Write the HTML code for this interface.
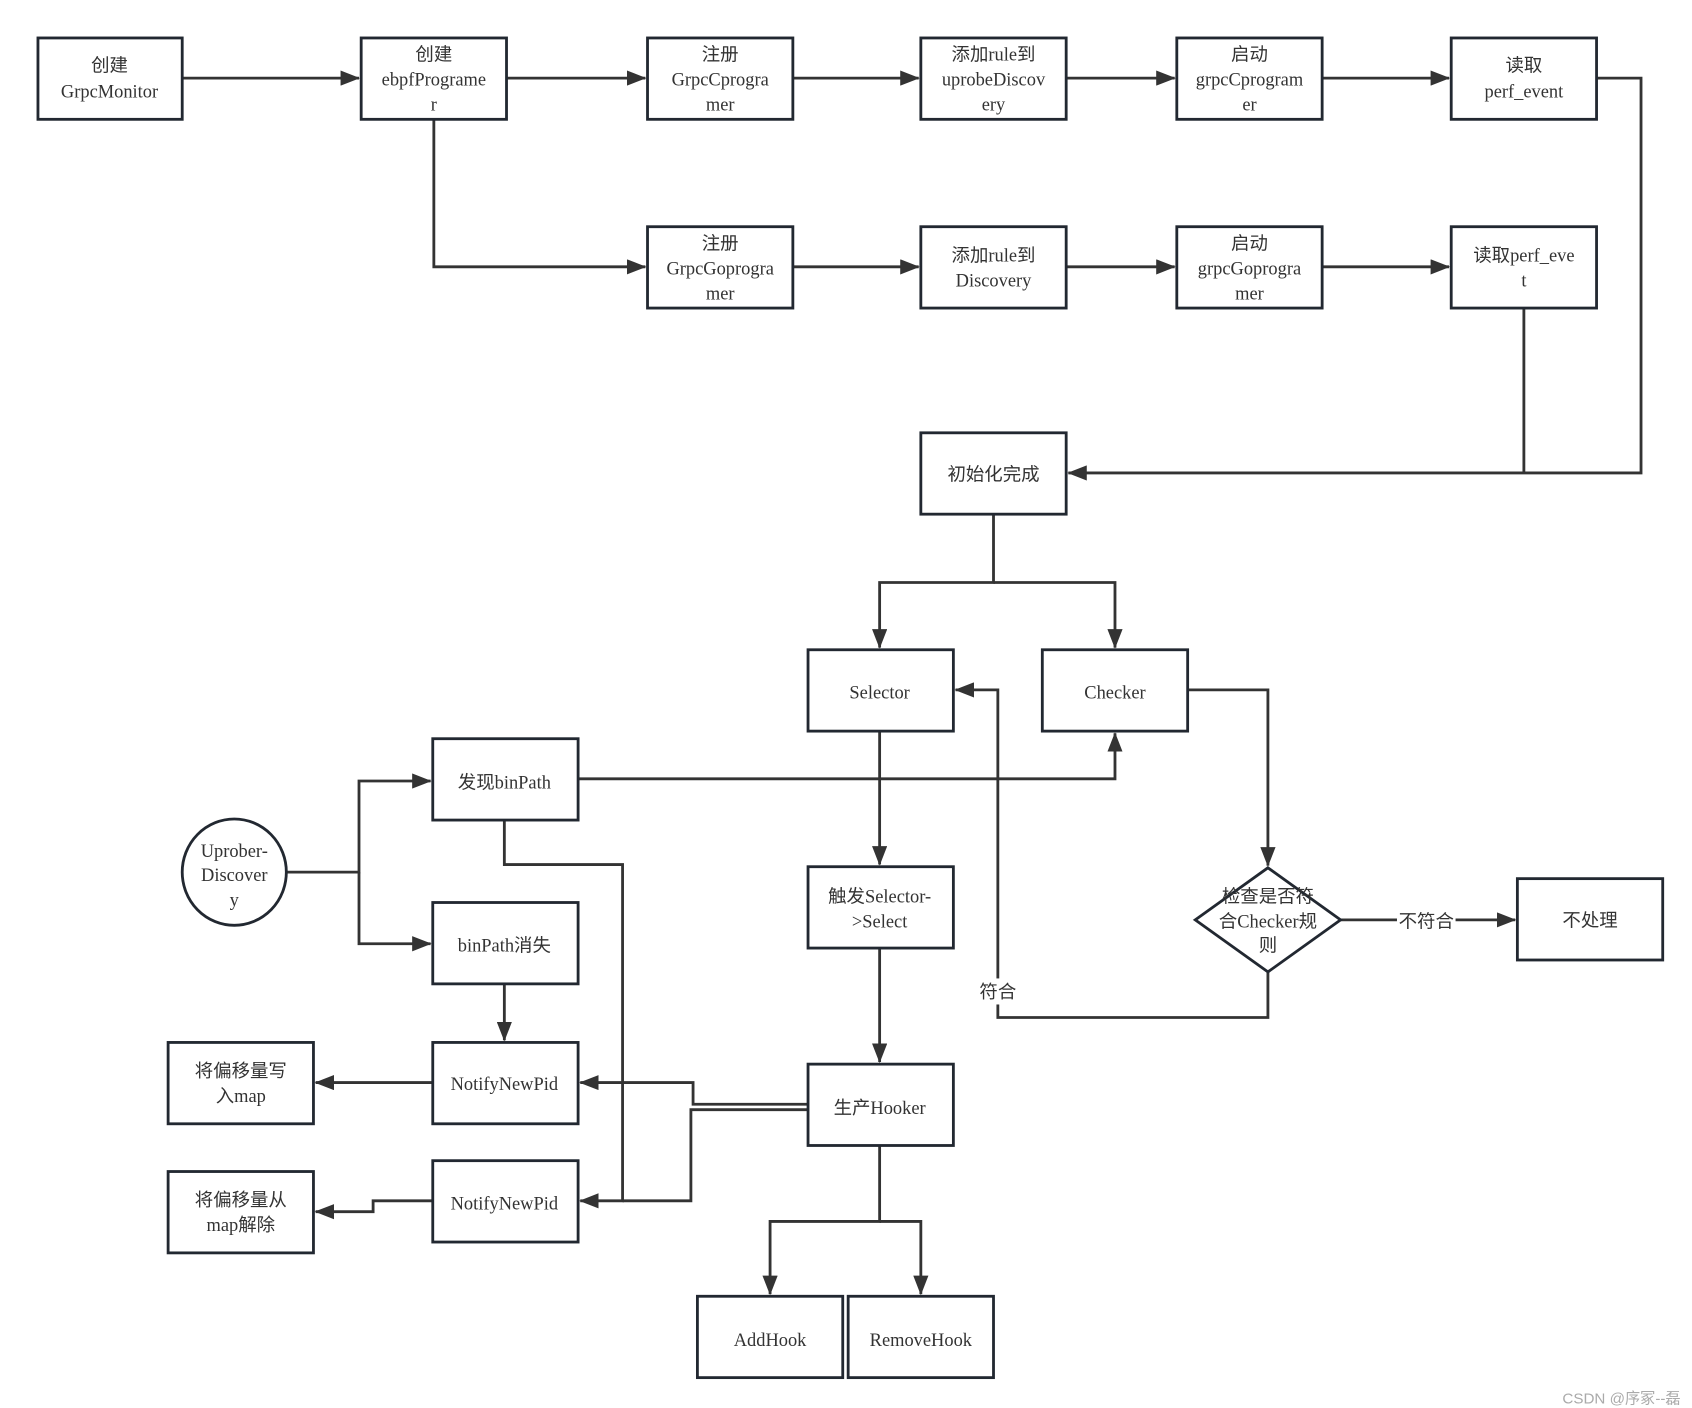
<!DOCTYPE html>
<html><head><meta charset="utf-8"><style>
html,body{margin:0;padding:0;background:#fff;}
svg{display:block;}
text{font-family:"Liberation Serif","Noto Sans CJK SC",serif;font-size:17px;fill:#333;text-anchor:middle;}
.b{fill:#fff;stroke:#222831;stroke-width:2.6;}
.l{fill:none;stroke:#333;stroke-width:2.6;}
</style></head><body>
<svg width="1692" height="1408" viewBox="0 0 1560 1298" preserveAspectRatio="none" xmlns="http://www.w3.org/2000/svg">
<defs><marker id="a" markerWidth="18" markerHeight="14" refX="17" refY="7" orient="auto" markerUnits="userSpaceOnUse"><path d="M0,0 L18,7 L0,14 Z" fill="#333"/></marker></defs>
<!-- connectors -->
<g class="l">
<path d="M168,72 H331" marker-end="url(#a)"/>
<path d="M467,72 H595" marker-end="url(#a)"/>
<path d="M731,72 H847" marker-end="url(#a)"/>
<path d="M983,72 H1083" marker-end="url(#a)"/>
<path d="M1219,72 H1336" marker-end="url(#a)"/>
<path d="M400,110 V246 H595" marker-end="url(#a)"/>
<path d="M731,246 H847" marker-end="url(#a)"/>
<path d="M983,246 H1083" marker-end="url(#a)"/>
<path d="M1219,246 H1336" marker-end="url(#a)"/>
<path d="M1472,72 H1513 V436 H985" marker-end="url(#a)"/>
<path d="M1405,284 V436"/>
<path d="M916,474 V537 H811 V597" marker-end="url(#a)"/>
<path d="M916,537 H1028 V597" marker-end="url(#a)"/>
<path d="M1095,636 H1169 V798" marker-end="url(#a)"/>
<path d="M1236,848 H1397" marker-end="url(#a)"/>
<path d="M1169,896 V938 H920 V636 H881" marker-end="url(#a)"/>
<path d="M811,674 V797" marker-end="url(#a)"/>
<path d="M811,874 V979" marker-end="url(#a)"/>
<path d="M811,1056 V1126 H710 V1193" marker-end="url(#a)"/>
<path d="M811,1126 H849 V1193" marker-end="url(#a)"/>
<path d="M533,718 H1028 V676" marker-end="url(#a)"/>
<path d="M465,756 V797 H574 V1107 H535" marker-end="url(#a)"/>
<path d="M265,804 H331 V720 H397" marker-end="url(#a)"/>
<path d="M331,804 V870 H397" marker-end="url(#a)"/>
<path d="M465,907 V959" marker-end="url(#a)"/>
<path d="M745,1018 H639 V998 H535" marker-end="url(#a)"/>
<path d="M745,1023 H637 V1107 H574"/>
<path d="M399,998 H291" marker-end="url(#a)"/>
<path d="M399,1107 H344 V1117 H291" marker-end="url(#a)"/>
</g>
<!-- label backgrounds -->
<rect x="1288" y="836" width="54" height="24" fill="#fff"/>
<rect x="900" y="902" width="40" height="24" fill="#fff"/>
<!-- boxes -->
<rect class="b" x="35" y="35" width="133" height="75"/>
<rect class="b" x="333" y="35" width="134" height="75"/>
<rect class="b" x="597" y="35" width="134" height="75"/>
<rect class="b" x="849" y="35" width="134" height="75"/>
<rect class="b" x="1085" y="35" width="134" height="75"/>
<rect class="b" x="1338" y="35" width="134" height="75"/>
<rect class="b" x="597" y="209" width="134" height="75"/>
<rect class="b" x="849" y="209" width="134" height="75"/>
<rect class="b" x="1085" y="209" width="134" height="75"/>
<rect class="b" x="1338" y="209" width="134" height="75"/>
<rect class="b" x="849" y="399" width="134" height="75"/>
<rect class="b" x="745" y="599" width="134" height="75"/>
<rect class="b" x="961" y="599" width="134" height="75"/>
<rect class="b" x="399" y="681" width="134" height="75"/>
<rect class="b" x="399" y="832" width="134" height="75"/>
<rect class="b" x="745" y="799" width="134" height="75"/>
<rect class="b" x="1399" y="810" width="134" height="75"/>
<rect class="b" x="155" y="961" width="134" height="75"/>
<rect class="b" x="399" y="961" width="134" height="75"/>
<rect class="b" x="745" y="981" width="134" height="75"/>
<rect class="b" x="155" y="1080" width="134" height="75"/>
<rect class="b" x="399" y="1070" width="134" height="75"/>
<rect class="b" x="643" y="1195" width="134" height="75"/>
<rect class="b" x="782" y="1195" width="134" height="75"/>
<ellipse class="b" cx="216" cy="804" rx="48" ry="49"/>
<path class="b" d="M1169,800 L1236,848 L1169,896 L1102,848 Z"/>
<!-- text -->
<text x="101" y="66">创建</text><text x="101" y="90">GrpcMonitor</text>
<text x="400" y="56">创建</text><text x="400" y="79">ebpfPrograme</text><text x="400" y="102">r</text>
<text x="664" y="56">注册</text><text x="664" y="79">GrpcCprogra</text><text x="664" y="102">mer</text>
<text x="916" y="56">添加rule到</text><text x="916" y="79">uprobeDiscov</text><text x="916" y="102">ery</text>
<text x="1152" y="56">启动</text><text x="1152" y="79">grpcCprogram</text><text x="1152" y="102">er</text>
<text x="1405" y="66">读取</text><text x="1405" y="90">perf_event</text>
<text x="664" y="230">注册</text><text x="664" y="253">GrpcGoprogra</text><text x="664" y="276">mer</text>
<text x="916" y="241">添加rule到</text><text x="916" y="264">Discovery</text>
<text x="1152" y="230">启动</text><text x="1152" y="253">grpcGoprogra</text><text x="1152" y="276">mer</text>
<text x="1405" y="241">读取perf_eve</text><text x="1405" y="264">t</text>
<text x="916" y="443">初始化完成</text>
<text x="811" y="644">Selector</text>
<text x="1028" y="644">Checker</text>
<text x="465" y="727">发现binPath</text>
<text x="465" y="877">binPath消失</text>
<text x="811" y="832">触发Selector-</text><text x="811" y="855">&gt;Select</text>
<text x="1169" y="832">检查是否符</text><text x="1169" y="855">合Checker规</text><text x="1169" y="877">则</text>
<text x="1315" y="855">不符合</text>
<text x="1466" y="854">不处理</text>
<text x="920" y="920">符合</text>
<text x="216" y="790">Uprober-</text><text x="216" y="812">Discover</text><text x="216" y="835">y</text>
<text x="222" y="993">将偏移量写</text><text x="222" y="1016">入map</text>
<text x="465" y="1005">NotifyNewPid</text>
<text x="811" y="1027">生产Hooker</text>
<text x="222" y="1112">将偏移量从</text><text x="222" y="1135">map解除</text>
<text x="465" y="1115">NotifyNewPid</text>
<text x="710" y="1241">AddHook</text>
<text x="849" y="1241">RemoveHook</text>
<text x="1495" y="1294" style="font-family:'Liberation Sans','Noto Sans CJK SC',sans-serif;font-size:14px;fill:#aaa;">CSDN @序冢--磊</text>
</svg>
</body></html>
